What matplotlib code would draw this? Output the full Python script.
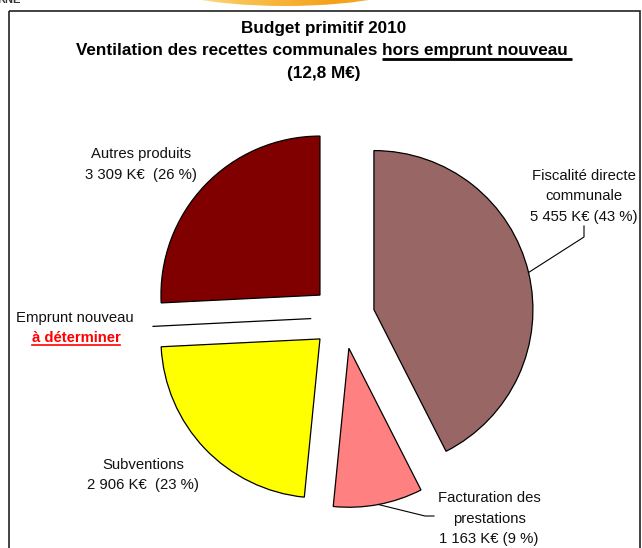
import matplotlib
matplotlib.use("Agg")
import matplotlib.pyplot as plt
import numpy as np
from matplotlib.patches import Ellipse, Rectangle

plt.rcParams["font.family"] = ["Liberation Sans", "DejaVu Sans"]

# data (K€)
categories = ["Fiscalité directe\ncommunale", "Facturation des\nprestations", "Subventions",
              "Emprunt nouveau", "Autres produits"]
amounts = [5455, 1163, 2906, 0, 3309]
amount_labels = ["5 455 K€ (43 %)", "1 163 K€ (9 %)", "2 906 K€  (23 %)", "", "3 309 K€  (26 %)"]
slice_colors = ["#996666", "#FF8080", "#FFFF00", "#000000", "#800000"]

title_lines = ["Budget primitif 2010", "Ventilation des recettes communales ", "hors emprunt nouveau ",
               "(12,8 M€)"]

W, H = 642, 548
CX, CY, R = 343, 317, 159

fig = plt.figure(figsize=(W / 100, H / 100), dpi=100)
ax = fig.add_axes([0, 0, 1, 1])

wedges, _ = ax.pie(
    amounts,
    colors=slice_colors,
    startangle=270,
    counterclock=True,
    radius=R,
    center=(CX, CY),
    explode=[0.2 * R] * len(amounts),
    wedgeprops=dict(edgecolor="black", linewidth=0.9),
)
ax.set_xlim(0, W)
ax.set_ylim(H, 0)
ax.set_aspect("auto")
ax.set_axis_off()

# frame and header decoration
ax.add_patch(Rectangle((9, 11), 631, 600, fill=False, edgecolor="#222222", linewidth=1.2, clip_on=False))
swoosh = Ellipse((285, -24), 280, 60, facecolor="none", edgecolor="none")
ax.add_patch(swoosh)
grad = np.linspace(0, 1, 256).reshape(1, -1)
img = ax.imshow(grad, extent=(145, 425, 10, -60), cmap=matplotlib.colors.LinearSegmentedColormap.from_list(
    "sw", ["#FFF6E0", "#FAC453", "#F5A01A", "#F8B540"]), aspect="auto", zorder=0)
img.set_clip_path(swoosh)
ax.text(-3, 3, "RNE", fontsize=8, fontweight="bold", ha="left", va="baseline", color="#333333")
ax.set_xlim(0, W)
ax.set_ylim(H, 0)

renderer = fig.canvas.get_renderer()
title_kw = dict(fontsize=12.3, fontweight="bold", va="baseline", color="black")
ax.text(324, 33, title_lines[0], ha="center", **title_kw)
ta = ax.text(0, 55, title_lines[1], ha="left", **title_kw)
tb = ax.text(0, 55, title_lines[2], ha="left", **title_kw)
wa = ta.get_window_extent(renderer).width
wb = tb.get_window_extent(renderer).width
x0 = 324 - (wa + wb) / 2
ta.set_x(x0)
tb.set_x(x0 + wa)
ax.plot([x0 + wa, x0 + wa + wb], [58.5, 58.5], color="black", linewidth=2, solid_capstyle="butt")
ax.text(324, 78, title_lines[3], ha="center", **title_kw)

label_kw = dict(fontsize=10.7, va="baseline", ha="center", color="#111111")


def put_lines(x, y0, lines, step=20.5):
    for i, line in enumerate(lines):
        ax.text(x, y0 + i * step, line, **label_kw)


def mid_point(w):
    t = np.deg2rad((w.theta1 + w.theta2) / 2)
    return w.center[0] + w.r * np.cos(t), w.center[1] + w.r * np.sin(t)


# Fiscalité
put_lines(584, 180, categories[0].split("\n") + [amount_labels[0]])
px, py = mid_point(wedges[0])
ax.plot([584, 584, px], [226, 237, py], color="black", linewidth=0.8)

# Facturation
put_lines(489, 502, categories[1].split("\n") + [amount_labels[1]])
px, py = mid_point(wedges[1])
ax.plot([434, 425, px], [516, 516, py], color="black", linewidth=0.8)

# Subventions
put_lines(143, 469, [categories[2], amount_labels[2]])

# Autres produits
put_lines(141, 158, [categories[4], amount_labels[4]])

# Emprunt nouveau
ax.text(75, 322, categories[3], **label_kw)
te = ax.text(76, 342, "à déterminer", fontsize=10.7, fontweight="bold", va="baseline", ha="center",
             color="#FF0000")
bb = te.get_window_extent(renderer)
ax.plot([76 - bb.width / 2, 76 + bb.width / 2], [344.5, 344.5], color="#FF0000", linewidth=1.2)

fig.savefig("out.png", dpi=100)
